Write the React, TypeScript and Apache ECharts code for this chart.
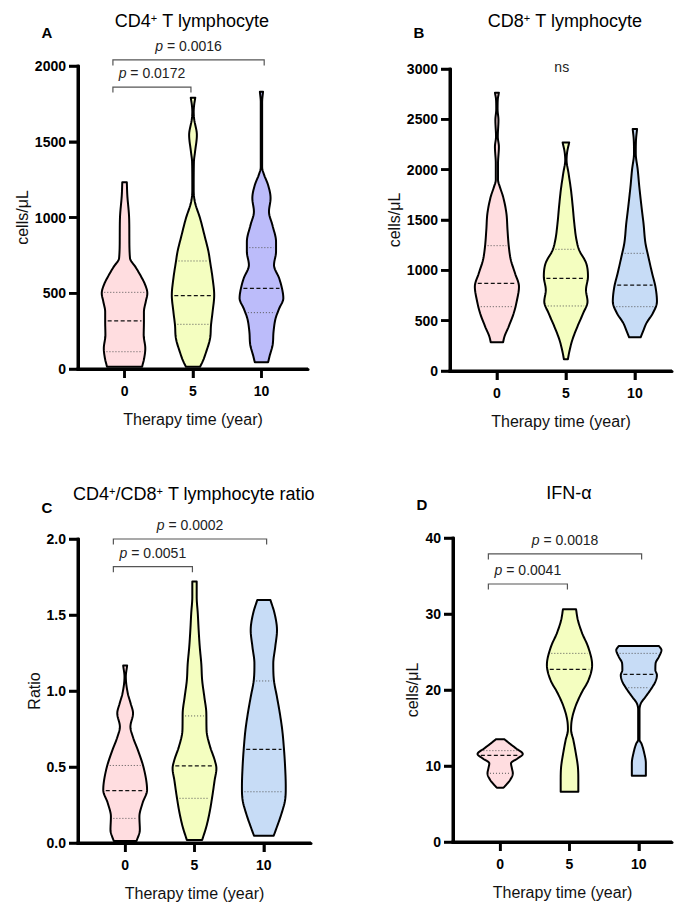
import React, { useEffect, useRef } from "react";
import * as echarts from "echarts";

const FONT = "Liberation Sans, Arial, Helvetica, sans-serif";

// Therapy time categories (years)
const years = [0, 5, 10];

// ---- Panel A: CD4+ T lymphocyte (cells/μL) — violin profiles [value, relative width]
const cd4Year0 = [[15,0.77],[70,0.86],[136,0.91],[224,0.84],[312,0.85],[378,0.85],[444,0.93],[500,1.0],[554,0.91],[620,0.69],[676,0.47],[730,0.24],[880,0.21],[1000,0.2],[1150,0.12],[1232,0.1]];
const cd4Year5 = [[15,0.31],[48,0.42],[114,0.58],[202,0.75],[290,0.79],[378,0.86],[488,0.93],[598,0.86],[708,0.75],[774,0.68],[884,0.5],[995,0.31],[1104,0.08],[1180,0.03],[1368,0.04],[1434,0.09],[1545,0.17],[1650,0.05],[1699,0.03],[1743,0.05],[1791,0.1]];
const cd4Year10 = [[44,0.29],[92,0.37],[158,0.49],[246,0.53],[334,0.62],[400,0.78],[466,0.96],[510,0.93],[598,0.78],[686,0.55],[774,0.64],[840,0.64],[950,0.48],[1038,0.33],[1127,0.4],[1215,0.29],[1280,0.12],[1330,0.03],[1545,0.03],[1764,0.03],[1830,0.07]];
const cd4Quartiles = [[114,317,506],[295,484,713],[372,532,801]];
const cd4Brackets = [{ from: -0.85, to: 4.85, y: 1861, p: "0.0172" }, { from: -0.85, to: 10.2, y: 2040, p: "0.0016" }];

// ---- Panel B: CD8+ T lymphocyte (cells/μL)
const cd8Year0 = [[285,0.28],[341,0.34],[440,0.53],[573,0.76],[705,0.91],[838,1.0],[971,0.82],[1103,0.63],[1235,0.54],[1401,0.48],[1566,0.43],[1731,0.28],[1831,0.13],[1897,0.05],[2062,0.05],[2228,0.09],[2328,0.04],[2493,0.07],[2600,0.03],[2700,0.04],[2765,0.09]];
const cd8Year5 = [[116,0.09],[176,0.14],[308,0.29],[440,0.52],[573,0.78],[689,0.98],[805,0.91],[937,1.0],[1070,0.92],[1202,0.6],[1301,0.48],[1467,0.38],[1632,0.31],[1798,0.23],[1964,0.12],[2096,0.03],[2179,0.06],[2271,0.15]];
const cd8Year10 = [[335,0.26],[400,0.38],[474,0.52],[573,0.81],[689,1.0],[838,0.93],[971,0.78],[1136,0.61],[1268,0.48],[1467,0.39],[1632,0.3],[1831,0.2],[1997,0.13],[2162,0.04],[2295,0.05],[2404,0.1]];
const cd8Quartiles = [[639,871,1245],[646,921,1209],[639,854,1169]];
const cd8Notes = [{ x: 4.7, y: 3015, text: "ns" }];

// ---- Panel C: CD4+/CD8+ ratio
const ratioYear0 = [[0.013,0.52],[0.086,0.67],[0.173,0.65],[0.261,0.79],[0.349,1.0],[0.414,0.96],[0.513,0.81],[0.612,0.58],[0.699,0.35],[0.765,0.24],[0.853,0.36],[0.919,0.25],[0.985,0.12],[1.094,0.03],[1.167,0.09]];
const ratioYear5 = [[0.02,0.35],[0.107,0.54],[0.195,0.68],[0.305,0.81],[0.414,0.92],[0.49,1.0],[0.546,0.92],[0.634,0.71],[0.743,0.55],[0.853,0.54],[0.96,0.45],[1.07,0.35],[1.18,0.31],[1.29,0.24],[1.4,0.19],[1.51,0.15],[1.62,0.1],[1.72,0.1]];
const ratioYear10 = [[0.048,0.45],[0.107,0.6],[0.195,0.81],[0.283,0.97],[0.37,1.0],[0.502,0.97],[0.634,0.91],[0.743,0.84],[0.853,0.73],[0.96,0.6],[1.07,0.46],[1.18,0.43],[1.29,0.52],[1.4,0.6],[1.51,0.49],[1.599,0.3]];
const ratioQuartiles = [[0.162,0.344,0.51],[0.294,0.507,0.836],[0.337,0.616,1.066]];
const ratioBrackets = [{ from: -0.85, to: 4.85, y: 1.818, p: "0.0051" }, { from: -0.85, to: 10.2, y: 2.0, p: "0.0002" }];

// ---- Panel D: IFN-α
const ifnYear0 = [[7.15,0.15],[7.5,0.26],[8.16,0.44],[9.04,0.56],[9.69,0.52],[10.35,0.48],[11.01,0.78],[11.58,1.0],[12.32,0.7],[12.98,0.41],[13.51,0.19]];
const ifnYear5 = [[6.62,0.39],[8.16,0.39],[9.91,0.37],[11.67,0.28],[13.42,0.17],[14.74,0.07],[16.05,0.1],[17.8,0.26],[19.56,0.52],[21.3,0.84],[23.29,1.0],[25.7,0.82],[27.46,0.56],[29.2,0.37],[30.61,0.29]];
const ifnYear10 = [[8.73,0.31],[10.35,0.31],[11.67,0.24],[12.98,0.11],[13.42,0.03],[15.17,0.03],[17.37,0.03],[18.25,0.09],[19.12,0.3],[20.22,0.56],[21.09,0.73],[21.97,0.8],[22.63,0.73],[23.5,0.74],[24.38,0.89],[25.26,1.0],[25.79,0.89]];
const ifnQuartiles = [[9.04,11.4,12.02],[15.2,22.72,24.82],[20.3,22.06,24.82]];
const ifnBrackets = [{ from: -0.85, to: 4.85, y: 33.95, p: "0.0041" }, { from: -0.85, to: 10.2, y: 37.9, p: "0.0018" }];

const pink = "#FFDDE0";
const yellow = "#F4FEC0";
const lavender = "#BCBCFA";
const lightBlue = "#C7DCF6";

// x axis starts 3.4 years before 0; expressed as a shift so the axis starts at 0
const X_SHIFT = 3.4;

function makeInterp(pts: number[][]) {
  const n = pts.length;
  const xs = pts.map((p) => p[0]);
  const ys = pts.map((p) => p[1]);
  const d: number[] = [];
  for (let i = 0; i < n - 1; i++) d.push((ys[i + 1] - ys[i]) / (xs[i + 1] - xs[i]));
  const m: number[] = new Array(n).fill(0);
  m[0] = d[0];
  m[n - 1] = d[n - 2];
  for (let i = 1; i < n - 1; i++) m[i] = d[i - 1] * d[i] <= 0 ? 0 : (d[i - 1] + d[i]) / 2;
  for (let i = 0; i < n - 1; i++) {
    if (d[i] === 0) { m[i] = 0; m[i + 1] = 0; continue; }
    const a = m[i] / d[i], b = m[i + 1] / d[i];
    const s = a * a + b * b;
    if (s > 9) { const t = 3 / Math.sqrt(s); m[i] = t * a * d[i]; m[i + 1] = t * b * d[i]; }
  }
  return (x: number) => {
    if (x <= xs[0]) return ys[0];
    if (x >= xs[n - 1]) return ys[n - 1];
    let i = 0;
    while (i < n - 2 && x > xs[i + 1]) i++;
    const h = xs[i + 1] - xs[i];
    const t = (x - xs[i]) / h;
    const t2 = t * t, t3 = t2 * t;
    return (2 * t3 - 3 * t2 + 1) * ys[i] + (t3 - 2 * t2 + t) * h * m[i] + (-2 * t3 + 3 * t2) * ys[i + 1] + (t3 - t2) * h * m[i + 1];
  };
}

function violinSeries(idx: number, profiles: number[][][], quarts: number[][], colors: string[], halfW: number) {
  return {
    type: "custom",
    xAxisIndex: idx,
    yAxisIndex: idx,
    clip: false,
    silent: true,
    data: years.map((y, i) => [y + X_SHIFT, quarts[i][1]]),
    encode: { x: 0, y: 1 },
    renderItem: (params: any, api: any) => {
      const i = params.dataIndex;
      const x = api.value(0);
      const prof = profiles[i];
      const f = makeInterp(prof);
      const vmin = prof[0][0], vmax = prof[prof.length - 1][0];
      const vals: number[] = [];
      const N = 140;
      for (let k = 0; k <= N; k++) vals.push(vmin + ((vmax - vmin) * k) / N);
      const right = vals.map((v) => api.coord([x + Math.max(f(v), 0.025) * halfW, v]));
      const left = vals.slice().reverse().map((v) => api.coord([x - Math.max(f(v), 0.025) * halfW, v]));
      const children: any[] = [
        {
          type: "polygon",
          shape: { points: right.concat(left) },
          style: { fill: colors[i], stroke: "#000", lineWidth: 2, lineJoin: "round" },
        },
      ];
      quarts[i].forEach((q, k) => {
        const w = f(q) * halfW;
        const p1 = api.coord([x - w, q]);
        const p2 = api.coord([x + w, q]);
        if (p2[0] - p1[0] < 6) return;
        const isMed = k === 1;
        children.push({
          type: "line",
          shape: { x1: p1[0] + 2.5, y1: p1[1], x2: p2[0] - 2.5, y2: p2[1] },
          style: { stroke: isMed ? "#111" : "#555", lineWidth: isMed ? 1.3 : 1, lineDash: isMed ? [4, 2.5] : [1, 2] },
        });
      });
      return { type: "group", children };
    },
  };
}

// Axis frame (lines + ticks) drawn through the axes' own scales
function frameSeries(idx: number, xMax: number, yMax: number, interval: number) {
  return {
    type: "custom",
    xAxisIndex: idx,
    yAxisIndex: idx,
    clip: false,
    silent: true,
    data: [[0, 0]],
    encode: { x: 0, y: 1 },
    renderItem: (params: any, api: any) => {
      const o = api.coord([0, 0]);
      const top = api.coord([0, yMax]);
      const right = api.coord([xMax, 0]);
      const st = { stroke: "#000", lineWidth: 3 };
      const children: any[] = [
        { type: "line", shape: { x1: o[0], y1: o[1] + 1.5, x2: top[0], y2: top[1] - 1.25 }, style: st },
        { type: "line", shape: { x1: o[0] - 1.5, y1: o[1], x2: right[0], y2: right[1] }, style: st },
      ];
      const nTicks = Math.round(yMax / interval);
      for (let k = 0; k <= nTicks; k++) {
        const p = api.coord([0, k * interval]);
        children.push({ type: "line", shape: { x1: p[0] - 9, y1: p[1], x2: p[0], y2: p[1] }, style: { stroke: "#000", lineWidth: 2.5 } });
      }
      years.forEach((y) => {
        const p = api.coord([y + X_SHIFT, 0]);
        children.push({ type: "line", shape: { x1: p[0], y1: p[1], x2: p[0], y2: p[1] + 9 }, style: { stroke: "#000", lineWidth: 2.5 } });
      });
      return { type: "group", children };
    },
  };
}

function bracketSeries(idx: number, brackets: { from: number; to: number; y: number; p: string }[]) {
  return {
    type: "custom",
    xAxisIndex: idx,
    yAxisIndex: idx,
    clip: false,
    silent: true,
    data: brackets.map((b) => [b.from + X_SHIFT, b.y, b.to + X_SHIFT]),
    encode: { x: [0, 2], y: 1 },
    renderItem: (params: any, api: any) => {
      const b = brackets[params.dataIndex];
      const a = api.coord([b.from + X_SHIFT, b.y]);
      const c = api.coord([b.to + X_SHIFT, b.y]);
      return {
        type: "group",
        children: [
          {
            type: "polyline",
            shape: { points: [[a[0], a[1] + 5.5], [a[0], a[1]], [c[0], c[1]], [c[0], c[1] + 5.5]] },
            style: { stroke: "#555", lineWidth: 1.2, fill: "none" },
          },
          {
            type: "text",
            x: (a[0] + c[0]) / 2,
            y: a[1] - 14,
            style: {
              text: "{i|p} = " + b.p,
              align: "center",
              verticalAlign: "middle",
              fill: "#222",
              fontSize: 14,
              fontFamily: FONT,
              rich: { i: { fontStyle: "italic", fontSize: 14, fontFamily: FONT } },
            },
          },
        ],
      };
    },
  };
}

function noteSeries(idx: number, notes: { x: number; y: number; text: string }[]) {
  return {
    type: "custom",
    xAxisIndex: idx,
    yAxisIndex: idx,
    clip: false,
    silent: true,
    data: notes.map((n) => [n.x + X_SHIFT, n.y]),
    encode: { x: 0, y: 1 },
    renderItem: (params: any, api: any) => {
      const n = notes[params.dataIndex];
      const p = api.coord([n.x + X_SHIFT, n.y]);
      return {
        type: "group",
        children: [
          {
            type: "text",
            x: p[0],
            y: p[1],
            style: { text: n.text, align: "center", verticalAlign: "middle", fill: "#222", fontSize: 14, fontFamily: FONT },
          },
        ],
      };
    },
  };
}

const panelLayout = [
  { left: 78, top: 66, width: 230, height: 303, xMax: 16.8, yMax: 2000, interval: 500, yName: "cells/μL", nameGap: 47, dec: 0 },
  { left: 450, top: 69, width: 222, height: 302, xMax: 16.09, yMax: 3000, interval: 500, yName: "cells/μL", nameGap: 47, dec: 0 },
  { left: 78, top: 539, width: 233, height: 304, xMax: 16.8, yMax: 2, interval: 0.5, yName: "Ratio", nameGap: 36, dec: 1 },
  { left: 453, top: 538, width: 219, height: 304, xMax: 15.79, yMax: 40, interval: 10, yName: "cells/μL", nameGap: 33, dec: 0 },
];

function titleText(x: number, y: number, text: string) {
  return {
    type: "text",
    x,
    y,
    style: {
      text,
      align: "center",
      verticalAlign: "middle",
      rich: { a: { fontSize: 18, fontFamily: FONT }, s: { fontSize: 11, fontFamily: FONT, verticalAlign: "top" } },
    },
  };
}

function letter(x: number, y: number, t: string) {
  return {
    type: "text",
    x,
    y,
    style: { text: t, align: "center", verticalAlign: "middle", fontSize: 15, fontWeight: 700, fontFamily: FONT },
  };
}

export default function App() {
  const ref = useRef<HTMLDivElement>(null);
  useEffect(() => {
    if (!ref.current) return;
    const chart = echarts.init(ref.current, null, { renderer: "svg" });
    const grids = panelLayout.map((p) => ({ left: p.left, top: p.top, width: p.width, height: p.height }));
    const tickPositions = years.map((y) => y + X_SHIFT);
    const xAxes = panelLayout.map((p, i) => ({
      gridIndex: i,
      type: "value",
      position: "bottom",
      min: 0,
      max: p.xMax,
      axisLine: { show: true, lineStyle: { color: "#000", width: 3 } },
      axisTick: { show: true, customValues: tickPositions, length: 9, lineStyle: { color: "#000", width: 2.5 } },
      axisLabel: {
        customValues: tickPositions,
        formatter: (v: number) => String(Math.round(v - X_SHIFT)),
        fontSize: 14,
        fontWeight: 700,
        color: "#000",
        margin: 15,
        fontFamily: FONT,
      },
      splitLine: { show: false },
      name: "Therapy time (year)",
      nameLocation: "middle",
      nameGap: 42,
      nameTextStyle: { fontSize: 16, color: "#111", fontFamily: FONT },
    }));
    const yAxes = panelLayout.map((p, i) => ({
      gridIndex: i,
      type: "value",
      position: "left",
      min: 0,
      max: p.yMax,
      interval: p.interval,
      axisLine: { show: true, lineStyle: { color: "#000", width: 3 } },
      axisTick: { show: true, length: 9, lineStyle: { color: "#000", width: 2.5 } },
      axisLabel: { fontSize: 14, fontWeight: 700, color: "#000", margin: 12, fontFamily: FONT, formatter: (v: number) => v.toFixed(p.dec) },
      splitLine: { show: false },
      name: p.yName,
      nameLocation: "middle",
      nameGap: p.nameGap,
      nameTextStyle: { fontSize: 16, color: "#111", fontFamily: FONT },
    }));
    const series = [
      violinSeries(0, [cd4Year0, cd4Year5, cd4Year10], cd4Quartiles, [pink, yellow, lavender], 1.665),
      bracketSeries(0, cd4Brackets),
      violinSeries(1, [cd8Year0, cd8Year5, cd8Year10], cd8Quartiles, [pink, yellow, lightBlue], 1.6),
      noteSeries(1, cd8Notes),
      violinSeries(2, [ratioYear0, ratioYear5, ratioYear10], ratioQuartiles, [pink, yellow, lightBlue], 1.58),
      bracketSeries(2, ratioBrackets),
      violinSeries(3, [ifnYear0, ifnYear5, ifnYear10], ifnQuartiles, [pink, yellow, lightBlue], 1.63),
      bracketSeries(3, ifnBrackets),
      ...panelLayout.map((p, i) => frameSeries(i, p.xMax, p.yMax, p.interval)),
    ];
    chart.setOption({
      animation: false,
      grid: grids,
      xAxis: xAxes,
      yAxis: yAxes,
      series,
      graphic: [
        titleText(192, 21, "{a|CD4}{s|+}{a| T lymphocyte}"),
        titleText(565, 21, "{a|CD8}{s|+}{a| T lymphocyte}"),
        titleText(194, 494, "{a|CD4}{s|+}{a|/CD8}{s|+}{a| T lymphocyte ratio}"),
        titleText(569, 493, "{a|IFN-α}"),
        letter(47, 32, "A"),
        letter(419, 32, "B"),
        letter(47, 507, "C"),
        letter(422, 504, "D"),
      ],
    });
    return () => chart.dispose();
  }, []);
  return <div ref={ref} style={{ position: "absolute", left: 0, top: 0, width: 674, height: 902 }} />;
}
